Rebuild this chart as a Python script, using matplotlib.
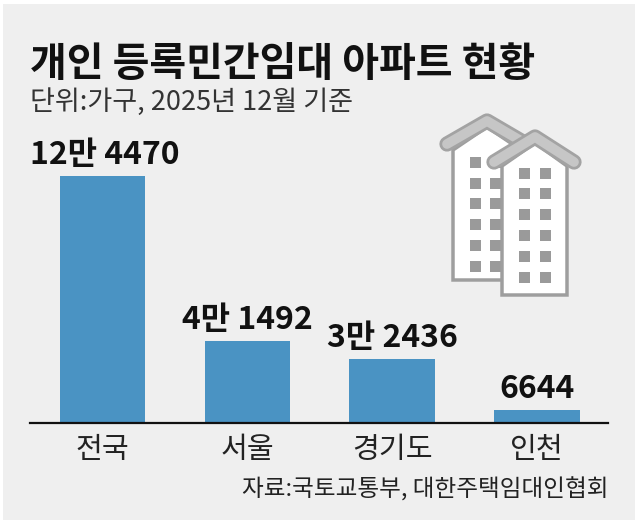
#----개인 등록민간임대 아파트 현황----#
import matplotlib.pyplot as plt
from matplotlib.patches import Rectangle, Polygon

plt.rcParams['font.family'] = ['Noto Sans CJK KR', 'DejaVu Sans']

### 데이터
regions = ["전국", "서울", "경기도", "인천"]
households = [124470, 41492, 32436, 6644]
value_labels = ["12만 4470", "4만 1492", "3만 2436", "6644"]

title = "개인 등록민간임대 아파트 현황"
subtitle = "단위:가구, 2025년 12월 기준"
source = "자료:국토교통부, 대한주택임대인협회"

bar_color = "#4a93c3"
panel_color = "#efefef"

W, H = 640, 526
fig = plt.figure(figsize=(W / 100, H / 100), dpi=100)
fig.patch.set_facecolor("white")

# 배경 패널 + 아이콘용 픽셀 좌표 축
bg = fig.add_axes([0, 0, 1, 1])
bg.set_xlim(0, W)
bg.set_ylim(H, 0)
bg.axis("off")
bg.add_patch(Rectangle((3, 4), 632, 516, facecolor=panel_color, edgecolor="none"))

# 제목
fig.text(30 / W, 1 - 76 / H, title, fontsize=28.8, fontweight="bold", color="#111111", va="baseline")
fig.text(30 / W, 1 - 110 / H, subtitle, fontsize=19.5, color="#333333", va="baseline")
fig.text(608 / W, 1 - 497 / H, source, fontsize=17, color="#222222", ha="right", va="baseline")

# 아파트 아이콘
outline = "#9e9e9e"
win = "#9a9a9a"
roof_dark = "#a3a3a3"
roof_light = "#c6c6c6"


def building(body, roof, windows, z):
    bg.add_patch(Polygon(body, closed=True, facecolor="white", edgecolor=outline, lw=2.5, zorder=z))
    for (wx, wy) in windows:
        bg.add_patch(Rectangle((wx, wy), 11, 11, facecolor=win, edgecolor="none", zorder=z + 0.1))
    xs = [p[0] for p in roof]
    ys = [p[1] for p in roof]
    bg.plot(xs, ys, color=roof_dark, lw=11, solid_capstyle="round", solid_joinstyle="round", zorder=z + 0.2)
    bg.plot(xs, ys, color=roof_light, lw=7, solid_capstyle="round", solid_joinstyle="round", zorder=z + 0.3)


rows_left = [157, 178, 198, 219, 240, 261]
rows_right = [168, 188, 209, 230, 251, 272]
building([(453, 280), (453, 150), (487, 127), (521, 150), (521, 280)],
         [(447, 144), (487, 121), (528, 145)],
         [(470, y) for y in rows_left] + [(490, y) for y in rows_left], 2)
building([(502, 295), (502, 166), (535, 143), (567, 166), (567, 295)],
         [(494, 162), (535, 137), (574, 162)],
         [(519, y) for y in rows_right] + [(540, y) for y in rows_right], 3)

# 막대 그래프
ax = fig.add_axes([30 / W, 1 - 423 / H, 578 / W, 293 / H])
ax.set_facecolor("none")
x = range(len(regions))
ax.bar(x, households, width=0.59, color=bar_color, zorder=2)
ax.set_xlim(-0.5, 3.49)
ax.set_ylim(0, 147650)

for i in x:
    ax.annotate(value_labels[i], (i, households[i]), xytext=(0, 12),
                textcoords="offset pixels", ha="center", va="baseline",
                fontsize=23, fontweight="bold", color="#111111")
# 첫 번째 라벨은 왼쪽 정렬
ax.texts[0].set_ha("left")
ax.texts[0].xyann = (-72, 12)

ax.set_xticks(list(x))
ax.set_xticklabels(regions, fontsize=21, color="#222222")
ax.tick_params(axis="x", length=0, pad=9)
ax.set_yticks([])
for s in ["top", "right", "left"]:
    ax.spines[s].set_visible(False)
ax.spines["bottom"].set_color("#111111")
ax.spines["bottom"].set_linewidth(1.6)

plt.savefig("out.png", dpi=100, facecolor=fig.get_facecolor())
